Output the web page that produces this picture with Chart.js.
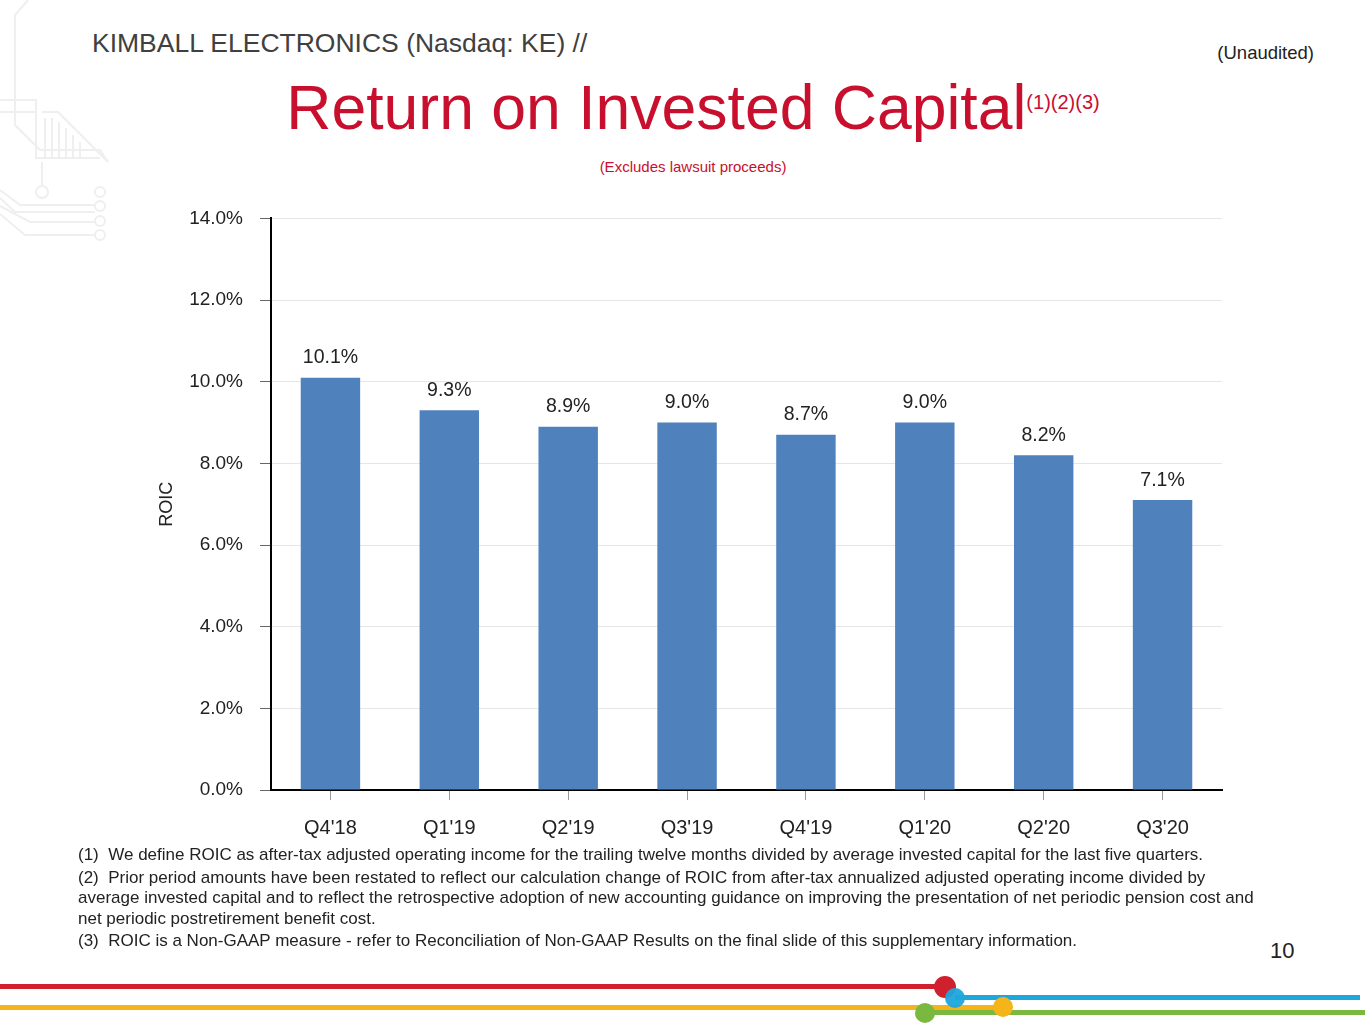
<!DOCTYPE html>
<html>
<head>
<meta charset="utf-8">
<script src="https://cdn.jsdelivr.net/npm/chart.js@4.4.0/dist/chart.umd.min.js"></script>
<style>
  body { margin: 0; background: #fff; font-family: "Liberation Sans", Arial, sans-serif; }
  #page { position: relative; width: 1365px; height: 1024px; overflow: hidden; }
  .abs { position: absolute; white-space: nowrap; }
  #company { left: 92px; top: 28px; font-size: 26.5px; color: #404040; }
  #unaudited { right: 51px; top: 42px; font-size: 18.5px; color: #222; }
  #title { left: 0; width: 1386px; text-align: center; top: 71px; font-size: 62.5px; color: #c8102e; }
  #title sup { font-size: 20px; vertical-align: 0; position: relative; top: -20px; }
  #subtitle { left: 0; width: 1386px; text-align: center; top: 158px; font-size: 15px; color: #c8102e; }
  #chartBox { position: absolute; left: 140px; top: 190px; width: 1100px; height: 660px; }
  #notes { position: absolute; left: 78px; top: 845px; font-size: 17px; line-height: 20.5px; color: #222; white-space: nowrap; }
  #notes p { margin: 0 0 2px 0; }
  #pageNum { left: 1270px; top: 938px; font-size: 22px; color: #222; }
  .line { position: absolute; height: 5px; }
  .dot { position: absolute; border-radius: 50%; }
</style>
</head>
<body>
<div id="page">
  <svg class="abs" style="left:0;top:0" width="120" height="250" viewBox="0 0 120 250">
    <g fill="none" stroke="#efefef" stroke-width="2">
      <path d="M28 0 L15 15 L15 125 L40 150 L100 150 L108 162" />
      <path d="M0 100 L36 100 L36 112 L0 112" />
      <path d="M42 112 L58 112 L108 162" />
      <path d="M36 112 L36 158 L100 158" />
      <path d="M42 162 L42 186" />
      <circle cx="42" cy="192" r="6" />
      <path d="M0 190 L20 205 L95 205" />
      <path d="M0 198 L15 212 L95 212" />
      <path d="M0 206 L30 222 L95 222" />
      <path d="M0 214 L25 235 L95 235" />
      <circle cx="100" cy="192" r="5" />
      <circle cx="100" cy="206" r="5" />
      <circle cx="100" cy="221" r="5" />
      <circle cx="100" cy="235" r="5" />
      <path d="M45 118 L45 158 M52 118 L52 158 M59 122 L59 158 M66 128 L66 158 M73 135 L73 158 M80 142 L80 158" />
    </g>
  </svg>
  <div id="company" class="abs">KIMBALL ELECTRONICS (Nasdaq: KE) //</div>
  <div id="unaudited" class="abs">(Unaudited)</div>
  <div id="title" class="abs">Return on Invested Capital<sup>(1)(2)(3)</sup></div>
  <div id="subtitle" class="abs">(Excludes lawsuit proceeds)</div>
  <div id="chartBox"><canvas id="roicChart"></canvas></div>
  <div id="notes">
    <p>(1)&nbsp; We define ROIC as after-tax adjusted operating income for the trailing twelve months divided by average invested capital for the last five quarters.</p>
    <p>(2)&nbsp; Prior period amounts have been restated to reflect our calculation change of ROIC from after-tax annualized adjusted operating income divided by<br>average invested capital and to reflect the retrospective adoption of new accounting guidance on improving the presentation of net periodic pension cost and<br>net periodic postretirement benefit cost.</p>
    <p>(3)&nbsp; ROIC is a Non-GAAP measure - refer to Reconciliation of Non-GAAP Results on the final slide of this supplementary information.</p>
  </div>
  <div id="pageNum" class="abs">10</div>

  <div class="line" style="left:0;top:984px;width:945px;background:#d0202e"></div>
  <div class="line" style="left:955px;top:995px;width:405px;background:#1ea7dc"></div>
  <div class="line" style="left:0;top:1005px;width:1003px;background:#f4b41a"></div>
  <div class="line" style="left:925px;top:1010px;width:440px;background:#7ab840"></div>
  <div class="dot" style="left:934px;top:976px;width:22px;height:22px;background:#d0202e"></div>
  <div class="dot" style="left:945px;top:988px;width:20px;height:20px;background:#1ea7dc;opacity:0.95"></div>
  <div class="dot" style="left:993px;top:997px;width:20px;height:20px;background:#f4b41a"></div>
  <div class="dot" style="left:915px;top:1003px;width:20px;height:20px;background:#7ab840"></div>
</div>

<script>
const quarters = ["Q4'18", "Q1'19", "Q2'19", "Q3'19", "Q4'19", "Q1'20", "Q2'20", "Q3'20"];
const roicValues = [10.1, 9.3, 8.9, 9.0, 8.7, 9.0, 8.2, 7.1];
const yTicks = [0, 2, 4, 6, 8, 10, 12, 14];

const fontFamily = '"Liberation Sans", Arial, sans-serif';

// value labels drawn above each bar
const barLabels = {
  id: "barLabels",
  afterDatasetsDraw(chart) {
    const ctx = chart.ctx;
    const meta = chart.getDatasetMeta(0);
    ctx.save();
    ctx.font = "19.5px " + fontFamily;
    ctx.fillStyle = "#222";
    ctx.textAlign = "center";
    ctx.textBaseline = "bottom";
    meta.data.forEach((bar, i) => {
      ctx.fillText(roicValues[i].toFixed(1) + "%", bar.x, bar.y - 10);
    });
    ctx.restore();
  },
};

new Chart(document.getElementById("roicChart"), {
  type: "bar",
  data: {
    labels: quarters,
    datasets: [
      {
        label: "ROIC",
        data: roicValues,
        backgroundColor: "#4f81bd",
        barPercentage: 0.5,
        categoryPercentage: 1.0,
      },
    ],
  },
  options: {
    responsive: true,
    maintainAspectRatio: false,
    animation: false,
    layout: { padding: { top: 8, right: 18, left: 0, bottom: 0 } },
    plugins: {
      legend: { display: false },
      tooltip: { enabled: false },
    },
    scales: {
      x: {
        afterFit: (scale) => { scale.height = 60; },
        border: { color: "#000", width: 2 },
        grid: {
          offset: false,
          drawOnChartArea: false,
          tickLength: 10,
          tickColor: "#999",
        },
        ticks: {
          color: "#222",
          padding: 16,
          font: { size: 20, family: fontFamily },
        },
      },
      y: {
        min: 0,
        max: 14,
        afterFit: (scale) => { scale.width = 131; },
        afterBuildTicks: (scale) => {
          scale.ticks = yTicks.map((v) => ({ value: v }));
        },
        border: { color: "#000", width: 2 },
        grid: {
          color: "#e6e6e6",
          tickLength: 11,
          tickColor: "#666",
        },
        ticks: {
          color: "#222",
          padding: 17,
          font: { size: 19, family: fontFamily },
          callback: (v) => v.toFixed(1) + "%",
        },
        title: {
          display: true,
          text: "ROIC",
          color: "#222",
          padding: { top: 16, bottom: 0 },
          font: { size: 18, family: fontFamily },
        },
      },
    },
  },
  plugins: [barLabels],
});
</script>
</body>
</html>
